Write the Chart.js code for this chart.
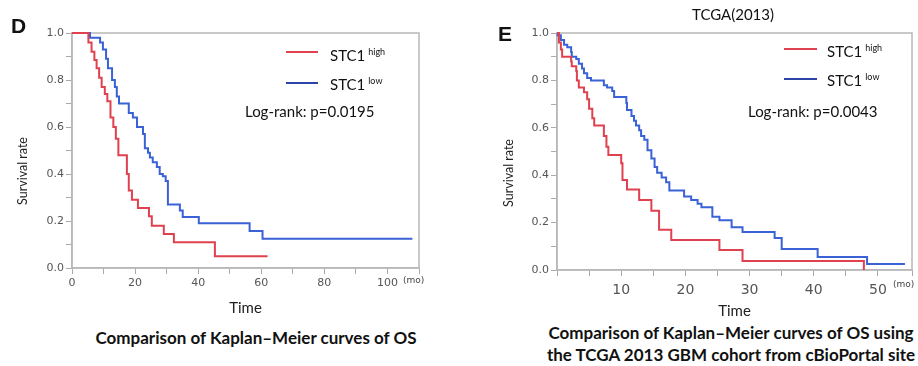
<!DOCTYPE html>
<html>
<head>
<meta charset="utf-8">
<title>STC1 Kaplan-Meier</title>
<script src="https://cdn.jsdelivr.net/npm/chart.js@4"></script>
<style>
    body { margin: 0; background: #fff; }
    #page { position: relative; width: 918px; height: 366px; overflow: hidden; font-family: Lato, sans-serif; color: #111; }
    .abs { position: absolute; white-space: nowrap; }
    .panel-letter { font-family: "Liberation Sans", Arial, sans-serif; font-weight: bold; font-size: 21px; line-height: 21px; }
    .leg-line { position: absolute; height: 2px; }
    .leg-text { font-size: 15px; line-height: 16px; }
    .leg-text sup { font-size: 9px; vertical-align: 6px; margin-left: 3px; }
    .mo { font-family: "DejaVu Sans", sans-serif; font-size: 9px; color: #444; }
    .ylab { font-size: 12.5px; line-height: 14px; color: #222; transform: translate(-50%, -50%) rotate(-90deg); }
    .caption { font-weight: bold; font-size: 17px; line-height: 22px; text-align: center; }
</style>
</head>
<body>
<div id="page">
    <canvas id="kmD" class="abs" style="left:0;top:0" width="440" height="320"></canvas>
    <canvas id="kmE" class="abs" style="left:470px;top:0" width="448" height="320"></canvas>

    <!-- panneau D -->
    <div class="abs panel-letter" style="left:11px;top:15px">D</div>
    <div class="abs ylab" style="left:23px;top:171px">Survival rate</div>
    <div class="leg-line" style="left:286px;top:51px;width:32px;background:#e0414f"></div>
    <div class="abs leg-text" style="left:330px;top:44px">STC1<sup>high</sup></div>
    <div class="leg-line" style="left:286px;top:82px;width:32px;background:#2c44a8"></div>
    <div class="abs leg-text" style="left:330px;top:73px">STC1<sup>low</sup></div>
    <div class="abs leg-text" style="left:245px;top:103px">Log-rank: p=0.0195</div>
    <div class="abs mo" style="left:403px;top:275px">(mo)</div>
    <div class="abs caption" style="left:56px;top:327px;width:400px">Comparison of Kaplan–Meier curves of OS</div>

    <!-- panneau E -->
    <div class="abs panel-letter" style="left:498px;top:23px">E</div>
    <div class="abs ylab" style="left:509px;top:173px">Survival rate</div>
    <div class="abs" style="left:692px;top:5px;font-size:15px;line-height:18px">TCGA(2013)</div>
    <div class="leg-line" style="left:784px;top:48px;width:33px;background:#e0414f"></div>
    <div class="abs leg-text" style="left:827px;top:40px">STC1<sup>high</sup></div>
    <div class="leg-line" style="left:784px;top:78px;width:33px;background:#2c44a8"></div>
    <div class="abs leg-text" style="left:827px;top:69px">STC1<sup>low</sup></div>
    <div class="abs leg-text" style="left:748px;top:103px">Log-rank: p=0.0043</div>
    <div class="abs mo" style="left:893px;top:279px">(mo)</div>
    <div class="abs caption" style="left:531px;top:322px;width:400px">Comparison of Kaplan–Meier curves of OS using<br>the TCGA 2013 GBM cohort from cBioPortal site</div>
</div>

<script>
// ---- données (mois, taux de survie) ----
const timeD_high = [0, 5.2, 6.2, 7.1, 7.8, 8.6, 9.4, 10.4, 11.2, 12.2, 13.1, 13.9, 14.7, 17.4, 18.0, 19.0, 20.9, 24.4, 25.3, 29.1, 32.3, 45.3, 62.0];
const survD_high = [1.0, 0.96, 0.92, 0.885, 0.85, 0.81, 0.77, 0.74, 0.71, 0.64, 0.60, 0.55, 0.48, 0.40, 0.33, 0.29, 0.255, 0.22, 0.18, 0.145, 0.11, 0.05, 0.05];

const timeD_low = [0, 5.7, 8.9, 9.8, 10.8, 11.4, 12.7, 13.6, 14.2, 14.9, 18.0, 19.3, 20.6, 22.5, 23.1, 24.1, 24.7, 25.6, 26.9, 27.8, 28.8, 29.7, 30.4, 34.2, 35.1, 40.2, 56.3, 60.4, 107.9];
const survD_low = [1.0, 0.98, 0.96, 0.93, 0.89, 0.85, 0.80, 0.77, 0.73, 0.70, 0.66, 0.64, 0.60, 0.57, 0.51, 0.49, 0.47, 0.45, 0.43, 0.40, 0.39, 0.37, 0.27, 0.245, 0.217, 0.19, 0.157, 0.124, 0.124];

const timeE_high = [0, 0.3, 0.6, 0.8, 2.2, 2.3, 3.0, 3.1, 3.4, 4.2, 4.7, 5.0, 5.5, 5.8, 7.3, 7.7, 8.0, 10.0, 10.2, 10.9, 12.8, 14.7, 15.9, 17.8, 25.3, 28.9, 47.8];
const survE_high = [1.0, 0.96, 0.93, 0.90, 0.88, 0.86, 0.84, 0.80, 0.77, 0.75, 0.72, 0.68, 0.64, 0.61, 0.565, 0.52, 0.485, 0.45, 0.38, 0.34, 0.295, 0.25, 0.17, 0.127, 0.084, 0.038, 0.0];

const timeE_low = [0, 0.1, 0.6, 1.1, 1.6, 2.2, 2.3, 3.0, 3.4, 3.9, 4.2, 4.7, 5.3, 7.3, 7.8, 8.6, 8.9, 10.8, 10.9, 11.6, 12.0, 12.3, 12.8, 13.1, 13.6, 14.1, 14.7, 15.2, 15.6, 16.3, 17.0, 17.5, 19.8, 20.9, 21.9, 22.5, 24.2, 25.3, 27.2, 28.9, 33.9, 35.0, 40.6, 48.3, 54.2];
const survE_low = [1.0, 0.99, 0.97, 0.95, 0.94, 0.92, 0.90, 0.89, 0.87, 0.85, 0.83, 0.81, 0.80, 0.78, 0.77, 0.755, 0.73, 0.705, 0.675, 0.65, 0.63, 0.61, 0.59, 0.565, 0.55, 0.505, 0.47, 0.435, 0.41, 0.39, 0.37, 0.335, 0.31, 0.295, 0.28, 0.265, 0.225, 0.21, 0.18, 0.16, 0.135, 0.089, 0.055, 0.025, 0.025];

// ---- graduations ----
const xLabelsD = [0, 20, 40, 60, 80, 100];
const xLabelsE = [10, 20, 30, 40, 50];
const yLabels = [0.0, 0.2, 0.4, 0.6, 0.8, 1.0];

const RED = '#e0414f';
const BLUE = '#3a62d6';
const FRAME = '#b8b8b8';

function toPoints(times, surv) {
    return times.map((t, i) => ({ x: t, y: surv[i] }));
}

// cadre gris autour de la zone de tracé (haut et droite inclus)
const framePlugin = {
    id: 'frame',
    beforeDatasetsDraw(chart) {
        const a = chart.chartArea;
        const ctx = chart.ctx;
        ctx.save();
        ctx.strokeStyle = FRAME;
        ctx.lineWidth = 1.5;
        ctx.strokeRect(a.left, a.top, a.right - a.left, a.bottom - a.top);
        ctx.restore();
    }
};

function drawKM(id, cfg) {
    const has = (list, v) => list.some(l => Math.abs(l - v) < 1e-6);
    return new Chart(document.getElementById(id), {
        type: 'line',
        data: {
            datasets: [
                { data: toPoints(cfg.highT, cfg.highS), borderColor: RED, borderWidth: 2, stepped: true, pointRadius: 0, fill: false, clip: false },
                { data: toPoints(cfg.lowT, cfg.lowS), borderColor: BLUE, borderWidth: 2, stepped: true, pointRadius: 0, fill: false, clip: false }
            ]
        },
        options: {
            responsive: false,
            animation: false,
            events: [],
            layout: { padding: { top: 33, right: cfg.padRight, left: 0, bottom: 0 } },
            plugins: { legend: { display: false }, tooltip: { enabled: false } },
            scales: {
                x: {
                    type: 'linear',
                    min: 0,
                    max: cfg.xMax,
                    afterFit: s => { s.height = cfg.xHeight; },
                    ticks: {
                        stepSize: cfg.xStep,
                        autoSkip: false,
                        maxRotation: 0,
                        padding: cfg.xTickPad,
                        color: '#555',
                        font: { family: 'DejaVu Sans', size: cfg.xFont },
                        callback: v => has(cfg.xLabels, v) ? String(v) : ''
                    },
                    grid: { drawOnChartArea: false, tickLength: 6, tickColor: '#aaa' },
                    border: { color: FRAME, width: 1.5 },
                    title: { display: true, text: 'Time', color: '#222', font: { family: 'Lato', size: 15 }, padding: { top: 0, bottom: cfg.timePad } }
                },
                y: {
                    min: 0,
                    max: 1,
                    afterFit: s => { s.width = cfg.yWidth; },
                    ticks: {
                        stepSize: 0.1,
                        autoSkip: false,
                        padding: 2,
                        color: '#555',
                        font: { family: 'DejaVu Sans', size: 11 },
                        callback: v => has(yLabels, v) ? v.toFixed(1) : ''
                    },
                    grid: { drawOnChartArea: false, tickLength: 6, tickColor: '#aaa' },
                    border: { color: FRAME, width: 1.5 }
                }
            }
        },
        plugins: [framePlugin]
    });
}

document.addEventListener('DOMContentLoaded', function () {
    drawKM('kmD', {
        highT: timeD_high, highS: survD_high, lowT: timeD_low, lowS: survD_low,
        xMax: 110, xStep: 10, xLabels: xLabelsD, xFont: 11, xTickPad: 3,
        xHeight: 52, yWidth: 72, padRight: 21, timePad: 3
    });
    drawKM('kmE', {
        highT: timeE_high, highS: survE_high, lowT: timeE_low, lowS: survE_low,
        xMax: 55.3, xStep: 5, xLabels: xLabelsE, xFont: 14, xTickPad: 6,
        xHeight: 50, yWidth: 87, padRight: 6, timePad: 0
    });
});
</script>
</body>
</html>
